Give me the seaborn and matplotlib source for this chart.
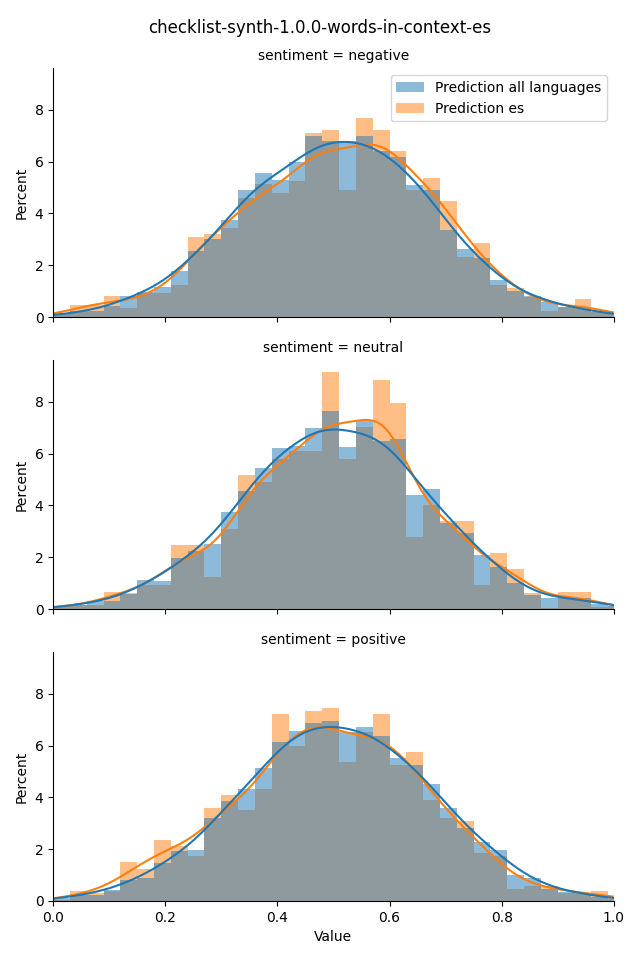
import numpy as np
import pandas as pd
import matplotlib
matplotlib.use("Agg")
import matplotlib.pyplot as plt
import seaborn as sns
from matplotlib.patches import Patch

title = "checklist-synth-1.0.0-words-in-context-es"
sentiments = ["negative", "neutral", "positive"]
models = ["Prediction all languages", "Prediction es"]

# histogram bins (binwidth 0.03, last bin runs past 1.0)
edges = np.linspace(0, 1.02, 35)
centers = (edges[:-1] + edges[1:]) / 2

# percent per bin
neg_all = [0.10, 0.22, 0.22, 0.41, 0.80, 0.96, 1.15, 1.77, 2.54, 3.00, 3.72, 4.86,
           5.52, 5.25, 5.96, 6.94, 6.75, 6.75, 6.95, 6.35, 6.14, 5.08, 4.86, 3.35,
           2.62, 2.28, 1.42, 0.99, 0.80, 0.58, 0.39, 0.30, 0.18, 0.10]
neg_es = [0.10, 0.45, 0.45, 0.80, 0.34, 0.93, 0.93, 1.23, 3.06, 3.16, 3.39, 4.55,
          5.10, 4.75, 5.21, 7.03, 7.15, 4.86, 7.61, 7.15, 6.36, 4.86, 5.33, 4.44,
          2.28, 2.85, 1.23, 1.10, 0.78, 0.22, 0.39, 0.68, 0.20, 0.10]

neu_all = [0.10, 0.15, 0.30, 0.31, 0.60, 1.13, 1.09, 1.99, 2.26, 2.53, 3.78, 4.60,
           5.49, 6.27, 6.35, 7.05, 7.71, 6.31, 7.32, 6.55, 6.62, 4.44, 4.68, 3.34,
           2.96, 2.10, 1.64, 1.01, 0.55, 0.42, 0.42, 0.42, 0.21, 0.10]
neu_es = [0.10, 0.15, 0.15, 0.66, 0.62, 0.94, 0.94, 2.49, 2.49, 1.25, 3.12, 5.26,
          4.96, 5.88, 6.19, 6.19, 9.27, 5.88, 7.13, 8.96, 8.06, 2.82, 4.05, 3.43,
          3.43, 0.94, 2.18, 1.56, 0.64, 0.05, 0.66, 0.66, 0.08, 0.10]

pos_all = [0.12, 0.25, 0.25, 0.42, 0.81, 0.88, 1.46, 1.95, 1.99, 3.23, 3.87, 4.33,
           5.15, 6.17, 6.59, 6.88, 6.99, 6.56, 6.76, 6.40, 5.54, 5.28, 4.52, 3.62,
           2.84, 2.29, 1.99, 0.99, 0.88, 0.48, 0.35, 0.30, 0.16, 0.08]
pos_es = [0.05, 0.37, 0.30, 0.37, 1.50, 1.23, 2.37, 2.13, 1.74, 3.62, 4.13, 3.52,
          4.37, 7.27, 6.01, 7.39, 7.50, 5.39, 6.58, 7.27, 5.28, 5.78, 3.91, 3.23,
          3.11, 1.86, 1.74, 0.48, 0.60, 0.60, 0.30, 0.28, 0.37, 0.10]

series = {
    "negative": (neg_all, neg_es),
    "neutral": (neu_all, neu_es),
    "positive": (pos_all, pos_es),
}

# long table: one row per bin, weighted by its percent
rows = []
for sent in sentiments:
    for model, pct in zip(models, series[sent]):
        for c, p in zip(centers, pct):
            rows.append({"sentiment": sent, "model": model, "Value": c, "pct": p})
df = pd.DataFrame(rows)

g = sns.displot(
    df, x="Value", weights="pct", hue="model", hue_order=models,
    row="sentiment", row_order=sentiments, kind="hist", bins=list(edges),
    stat="percent", common_norm=False, kde=True, linewidth=0,
    kde_kws={"bw_adjust": 0.45, "cut": 1}, height=3.2, aspect=2, legend=False,
)
g.set(xlim=(0, 1))

pal = sns.color_palette()
handles = [Patch(facecolor=pal[i], alpha=0.5, label=m) for i, m in enumerate(models)]
g.axes[0, 0].legend(handles=handles, loc="upper right")

g.figure.suptitle(title, fontsize=12)
g.figure.subplots_adjust(left=0.083, right=0.959, top=0.929, bottom=0.0615, hspace=0.173)
g.figure.set_size_inches(6.4, 9.6)
g.figure.savefig("out.png", dpi=100)
